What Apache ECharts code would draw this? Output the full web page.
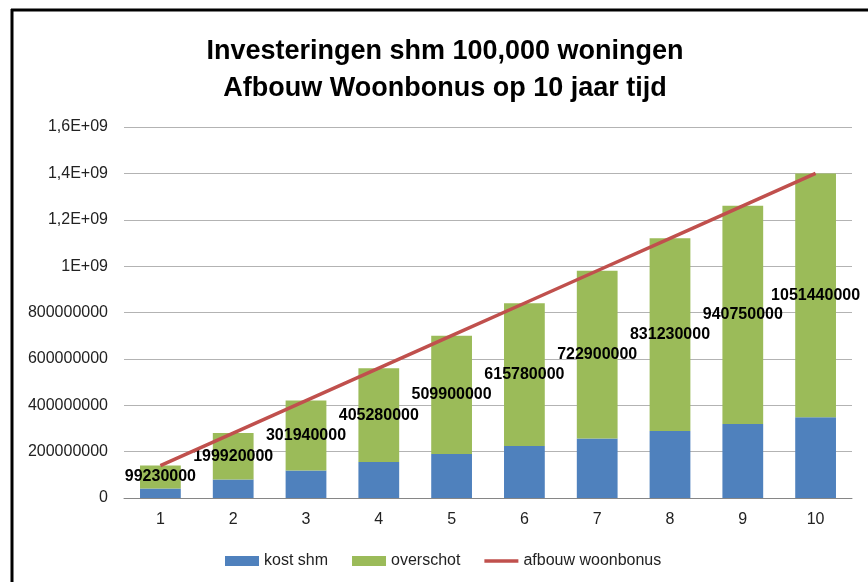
<!DOCTYPE html>
<html style="height: 100%">
<head>
    <meta charset="utf-8">
</head>
<body style="height: 100%; margin: 0">
<div id="container" style="width: 868px; height: 582px"></div>
<script src="https://cdn.jsdelivr.net/npm/echarts@6/dist/echarts.min.js"></script>
<script>
    // data
    var jaren = ['1', '2', '3', '4', '5', '6', '7', '8', '9', '10'];
    var kostShm = [40770000, 80080000, 118060000, 154720000, 190100000, 224220000, 257100000, 288770000, 319250000, 348560000];
    var overschot = [99230000, 199920000, 301940000, 405280000, 509900000, 615780000, 722900000, 831230000, 940750000, 1051440000];
    var afbouwWoonbonus = [140000000, 280000000, 420000000, 560000000, 700000000, 840000000, 980000000, 1120000000, 1260000000, 1400000000];
    var yTickLabels = ['0', '200000000', '400000000', '600000000', '800000000', '1E+09', '1,2E+09', '1,4E+09', '1,6E+09'];

    var font = '"Liberation Sans", Arial, sans-serif';
    var dom = document.getElementById("container");
    var myChart = echarts.init(dom);

    var option = {
        backgroundColor: '#fff',
        title: {
            text: 'Investeringen shm 100,000 woningen\nAfbouw Woonbonus op 10 jaar tijd',
            left: 440,
            textAlign: 'center',
            top: 28,
            textStyle: {
                fontFamily: font,
                fontSize: 27,
                fontWeight: 'bold',
                color: '#000',
                lineHeight: 37
            }
        },
        legend: {
            left: 220,
            top: 548,
            itemWidth: 34,
            itemHeight: 10,
            itemGap: 24,
            textStyle: {fontFamily: font, fontSize: 16, color: '#222'},
            data: [
                {name: 'kost shm', icon: 'rect'},
                {name: 'overschot', icon: 'rect'},
                {name: 'afbouw woonbonus', icon: 'path://M0,0 L34,0 L34,3.5 L0,3.5 Z'}
            ]
        },
        grid: {
            left: 124,
            right: 16,
            top: 127,
            bottom: 84
        },
        xAxis: {
            type: 'category',
            data: jaren,
            axisLine: {lineStyle: {color: '#868686', width: 1}},
            axisTick: {length: 6, lineStyle: {color: '#868686'}},
            axisLabel: {fontFamily: font, fontSize: 16, color: '#222', margin: 14}
        },
        yAxis: {
            type: 'value',
            min: 0,
            max: 1600000000,
            interval: 200000000,
            axisLine: {show: false},
            axisTick: {show: false},
            splitLine: {lineStyle: {color: '#b3b3b3', width: 1}},
            axisLabel: {
                fontFamily: font, fontSize: 16, color: '#222', margin: 16,
                formatter: function (v) {
                    return yTickLabels[Math.round(v / 200000000)];
                }
            }
        },
        series: [
            {
                name: 'kost shm',
                type: 'bar',
                stack: 'tot',
                barWidth: '56%',
                color: '#4F81BD',
                data: kostShm
            },
            {
                name: 'overschot',
                type: 'bar',
                stack: 'tot',
                color: '#9BBB59',
                label: {
                    show: true,
                    position: 'inside',
                    fontFamily: font,
                    fontSize: 16,
                    fontWeight: 'bold',
                    color: '#000'
                },
                data: overschot
            },
            {
                name: 'afbouw woonbonus',
                type: 'line',
                symbol: 'none',
                color: '#C0504D',
                lineStyle: {width: 3.5, color: '#C0504D'},
                z: 5,
                data: afbouwWoonbonus
            }
        ],
        graphic: [
            {type: 'line', shape: {x1: 12, y1: 9, x2: 12, y2: 582}, style: {stroke: '#000', lineWidth: 3}},
            {type: 'line', shape: {x1: 11, y1: 10, x2: 868, y2: 10}, style: {stroke: '#000', lineWidth: 3}}
        ]
    };
    myChart.setOption(option, true);
</script>
</body>
</html>
